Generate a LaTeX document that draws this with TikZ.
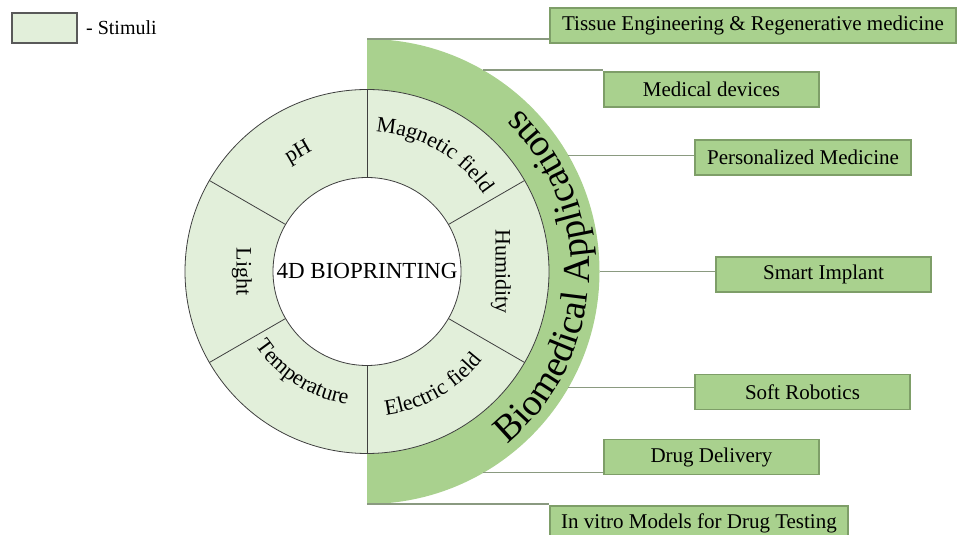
\documentclass[tikz,border=0pt]{standalone}
\usepackage{fontspec}
\setmainfont{Liberation Serif}
\usepackage{tikz}
\usetikzlibrary{calc,decorations.text}

\definecolor{stimgreen}{HTML}{E2EFDA}
\definecolor{appgreen}{HTML}{A9D18E}
\definecolor{boxline}{HTML}{7E9E68}
\definecolor{linkgreen}{HTML}{8A9A80}
\definecolor{ringgray}{HTML}{3F3F3F}
\definecolor{legendgray}{HTML}{595959}

\newcommand{\stimfont}{\fontsize{22}{26}\selectfont}

\tikzset{
  ringline/.style={draw=ringgray, line width=0.8pt},
  stimlabel/.style={font=\stimfont, inner sep=0pt},
  curvetext/.style={decorate, decoration={text along path, text align=center, text={|\stimfont|#1}}},
  appbox/.style={draw=boxline, line width=1.2pt, fill=appgreen, minimum width=215pt,
    minimum height=35pt, inner sep=0pt, font=\fontsize{21}{25}\selectfont},
  link/.style={draw=linkgreen, line width=1.3pt}
}

\begin{document}
\begin{tikzpicture}[x=1pt,y=1pt]
\useasboundingbox (0,0) rectangle (958,535);
\coordinate (c) at (367,263.5);

% applications band
\fill[appgreen] ($(c)+(90:232.5)$) arc [start angle=90, end angle=-90, radius=232.5] -- cycle;
\path[decorate, decoration={text along path, text align=center,
  text={|\fontsize{38}{43}\selectfont|Biomedical Applications}}]
  ($(c)+(-92:222)$) arc [start angle=-92, end angle=88, radius=222];

% stimuli ring
\draw[ringline, fill=stimgreen] (c) circle [radius=182];
\draw[ringline, fill=white] (c) circle [radius=94];
\foreach \a in {30,90,...,330}
  \draw[ringline] ($(c)+(\a:94)$) -- ($(c)+(\a:182)$);

\node[font=\fontsize{23}{27}\selectfont, inner sep=0pt] (core) at (c) {4D BIOPRINTING};
\node[stimlabel, rotate=30] (ph) at ($(c)+(120:137)$) {pH};
\node[stimlabel, rotate=-90] (light) at ($(c)+(180:125)$) {Light};
\node[stimlabel, rotate=-90] (humid) at ($(c)+(0:134)$) {Humidity};
\path[curvetext={Magnetic field}] ($(c)+(88:140)$) arc [start angle=88, end angle=32, radius=140];
\path[curvetext={Temperature}] ($(c)+(-150:134)$) arc [start angle=-150, end angle=-95, radius=134];
\path[curvetext={Electric field}] ($(c)+(-88:145)$) arc [start angle=-88, end angle=-32, radius=145];

% legend
\node[draw=legendgray, line width=1.2pt, fill=stimgreen, minimum width=65pt, minimum height=30pt] (legend) at (44.5,507) {};
\node[anchor=west, font=\fontsize{20}{24}\selectfont] (legendtext) at ([xshift=5pt]legend.east) {- Stimuli};

% applications
\node[appbox, minimum width=406pt] (tissue) at (753,509.5) {Tissue Engineering \& Regenerative medicine};
\node[appbox] (meddev) at (711.5,445.5) {Medical devices};
\node[appbox, minimum width=216pt] (persmed) at (803,377.5) {Personalized Medicine};
\node[appbox] (implant) at (823.5,260.5) {Smart Implant};
\node[appbox] (robotics) at (802.5,143) {Soft Robotics};
\node[appbox] (drugdel) at (711.5,78) {Drug Delivery};
\node[appbox, minimum width=298pt] (invitro) at (699,11.5) {In vitro Models for Drug Testing};

\foreach \a in {90,60,30,0,-30,-60,-90}
  \coordinate (r\a) at ($(c)+(\a:232.5)$);
\draw[link] (r90) -- (r90 -| tissue.west);
\draw[link] (r60) -- (r60 -| meddev.west);
\draw[link] (r30) -- (r30 -| persmed.west);
\draw[link] (r0) -- (r0 -| implant.west);
\draw[link] (r-30) -- (r-30 -| robotics.west);
\draw[link] (r-60) -- (r-60 -| drugdel.west);
\draw[link] (r-90) -- (r-90 -| invitro.west);
\end{tikzpicture}
\end{document}
